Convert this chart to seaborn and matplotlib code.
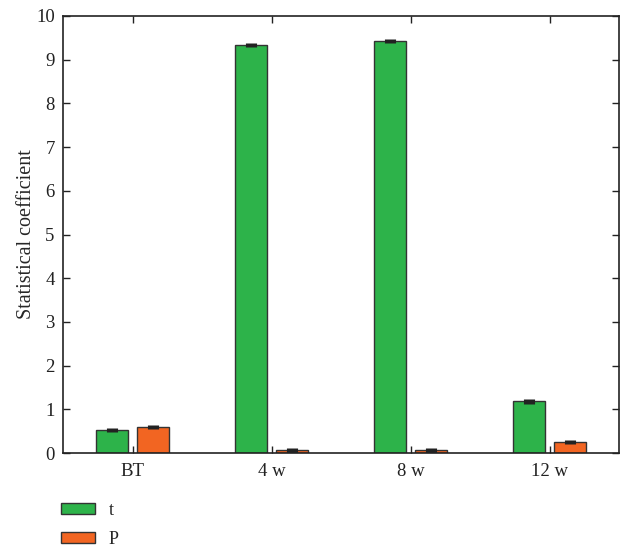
import matplotlib
matplotlib.use("Agg")
import matplotlib.pyplot as plt
import seaborn as sns
import pandas as pd
import numpy as np
from matplotlib.patches import Patch

# Data
timepoints = ["BT", "4 w", "8 w", "12 w"]
series = ["t", "P"]
t_values = [0.52, 9.34, 9.43, 1.18]
p_values = [0.60, 0.06, 0.06, 0.245]
t_err = [0.05, 0.05, 0.05, 0.05]
p_err = [0.05, 0.05, 0.05, 0.05]
y_ticks = list(range(0, 11))

colors = {"t": "#2db34a", "P": "#f26522"}

df = pd.DataFrame({
    "time": timepoints * 2,
    "series": ["t"] * len(timepoints) + ["P"] * len(timepoints),
    "value": t_values + p_values,
})

sns.set_style("white")
plt.rcParams["font.family"] = ["Liberation Serif", "DejaVu Serif"]

fig = plt.figure(figsize=(6.3, 5.47), dpi=100)
ax = fig.add_axes([63 / 630, 1 - 453 / 547, (619 - 63) / 630, (453 - 16) / 547])

sns.barplot(data=df, x="time", y="value", hue="series", order=timepoints,
            hue_order=series, palette=colors, saturation=1, width=0.58, gap=0.2,
            edgecolor="#333333", linewidth=1.0, errorbar=None, ax=ax)

# Error marks on top of each bar
for cont, vals, errs in zip(ax.containers, [t_values, p_values], [t_err, p_err]):
    xs = [b.get_x() + b.get_width() / 2 for b in cont]
    ax.errorbar(xs, vals, yerr=errs, fmt="none", ecolor="#222222",
                elinewidth=8, capsize=0, zorder=5)

ax.set_xlim(-0.5, 3.5)
ax.set_ylim(0, 10)
ax.set_yticks(y_ticks)
ax.set_xlabel("")
ax.set_ylabel("Statistical coefficient", fontsize=14.5, labelpad=0)
for s in ax.spines.values():
    s.set_visible(True)
    s.set_color("#222222")
    s.set_linewidth(1.2)
ax.tick_params(axis="both", direction="in", length=5, width=1, color="#222222",
               labelsize=13.5, labelcolor="#222222", top=True, right=True,
               left=True, bottom=True)
ax.tick_params(axis="x", pad=7)
ax.tick_params(axis="y", pad=6)

leg = ax.get_legend()
if leg is not None:
    leg.remove()
handles = [Patch(facecolor=colors[s], edgecolor="#333333", linewidth=1.0) for s in series]
fig.legend(handles, series, loc="upper left",
           bbox_to_anchor=(61 / 630, 1 - 502 / 547), frameon=False,
           fontsize=13, handlelength=1.9, handleheight=0.55,
           labelspacing=0.65, handletextpad=0.75, borderpad=0, borderaxespad=0)

fig.savefig("out.png", dpi=100)
